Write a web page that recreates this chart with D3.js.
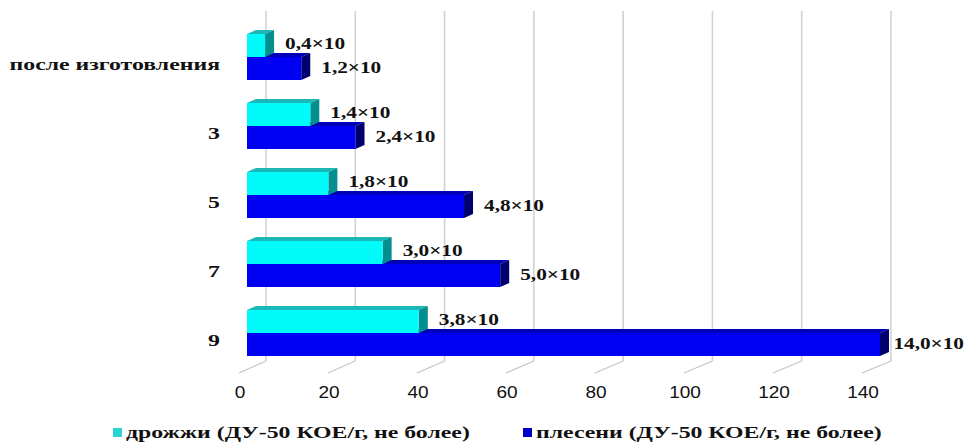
<!DOCTYPE html>
<html>
<head>
<meta charset="utf-8">
<script src="https://cdn.jsdelivr.net/npm/d3@7/dist/d3.min.js"></script>
<style>
  body { margin: 0; background: #fff; }
</style>
</head>
<body>
<script>
// data
var categories = ['после изготовления', '3', '5', '7', '9'];
var yeastValues = [4, 14, 18, 30, 38];
var mouldValues = [12, 24, 48, 56, 140];
var yeastLabels = ['0,4×10', '1,4×10', '1,8×10', '3,0×10', '3,8×10'];
var mouldLabels = ['1,2×10', '2,4×10', '4,8×10', '5,0×10', '14,0×10'];
var xTicks = [0, 20, 40, 60, 80, 100, 120, 140];
var seriesNames = ['дрожжи (ДУ-50 КОЕ/г, не более)', 'плесени (ДУ-50 КОЕ/г, не более)'];

// ----------------------------------------------------------------------------
// setup
var W = 968, H = 443;
var SX = 1.33;          // the picture is stretched sideways, so is its text
var DX = 9, DY = -4;    // depth of the 3d bars
var serif = '"Liberation Serif", "Times New Roman", serif';
var sans = '"Liberation Sans", Arial, sans-serif';

var svg = d3.select('body').append('svg')
  .attr('width', W)
  .attr('height', H);

var xBar = d3.scaleLinear().domain([0, 140]).range([247, 880]);
var xFront = d3.scaleLinear().domain([0, 140]).range([239, 862]);
var xBack = d3.scaleLinear().domain([0, 140]).range([266, 891]);
var yCat = d3.scalePoint().domain(categories).range([57, 333]);

var wallTop = 11, wallBottom = 361, floorFront = 373;
var barH = 23;

function stretchedText(g, x, y, str, opts) {
  var t = g.append('text')
    .attr('transform', 'translate(' + x + ',' + y + ') scale(' + (opts.sx || SX) + ',1)')
    .attr('text-anchor', opts.anchor || 'start')
    .style('font-family', opts.family || serif)
    .style('font-size', opts.size + 'px')
    .style('font-weight', opts.weight || 'bold')
    .style('fill', '#111')
    .text(str);
  return t;
}

// ----------------------------------------------------------------------------
// back wall gridlines and floor lines
svg.selectAll('line.grid')
  .data(xTicks)
  .enter()
  .append('line')
  .attr('class', 'grid')
  .attr('x1', function (d) { return xBack(d); })
  .attr('x2', function (d) { return xBack(d); })
  .attr('y1', wallTop)
  .attr('y2', wallBottom)
  .style('stroke', '#d2d2d2')
  .style('stroke-width', 1.6);

svg.selectAll('line.floor')
  .data(xTicks)
  .enter()
  .append('line')
  .attr('class', 'floor')
  .attr('x1', function (d) { return xFront(d); })
  .attr('x2', function (d) { return xBack(d); })
  .attr('y1', floorFront)
  .attr('y2', wallBottom)
  .style('stroke', '#c4c4c4')
  .style('stroke-width', 1.2);

// tick labels
var tickG = svg.append('g');
xTicks.forEach(function (d) {
  stretchedText(tickG, xFront(d) + 1, 398, String(d),
    { size: 17, weight: 'normal', family: sans, anchor: 'middle', sx: 1.12 });
});

// ----------------------------------------------------------------------------
// 3d bars
function bar3d(g, x0, x1, y0, h, front, top, side) {
  g.append('polygon')
    .attr('points', [[x0, y0], [x0 + DX, y0 + DY], [x1 + DX, y0 + DY], [x1, y0]].join(' '))
    .style('fill', top);
  g.append('polygon')
    .attr('points', [[x1, y0], [x1 + DX, y0 + DY], [x1 + DX, y0 + h + DY], [x1, y0 + h]].join(' '))
    .style('fill', side);
  g.append('rect')
    .attr('x', x0)
    .attr('y', y0)
    .attr('width', x1 - x0)
    .attr('height', h)
    .style('fill', front);
}

var barsG = svg.append('g');
categories.forEach(function (c, i) {
  var b = yCat(c);
  bar3d(barsG, xBar(0), xBar(mouldValues[i]), b, barH, '#0000f2', '#0000b8', '#00006e');
  bar3d(barsG, xBar(0), xBar(yeastValues[i]), b - barH, barH, '#00fbfb', '#1cb8b8', '#058e8e');
});

// value labels
var labelG = svg.append('g');
categories.forEach(function (c, i) {
  var b = yCat(c);
  var t1 = stretchedText(labelG, 0, 0, yeastLabels[i], { size: 16 });
  var w1 = t1.node().getComputedTextLength() * SX;
  var x1 = Math.min(xBar(yeastValues[i]) + 20, W - w1 - 4);
  t1.attr('transform', 'translate(' + x1 + ',' + (b - 8) + ') scale(' + SX + ',1)');

  var t2 = stretchedText(labelG, 0, 0, mouldLabels[i], { size: 16 });
  var w2 = t2.node().getComputedTextLength() * SX;
  var x2 = Math.min(xBar(mouldValues[i]) + 20, W - w2 - 4);
  t2.attr('transform', 'translate(' + x2 + ',' + (b + 16) + ') scale(' + SX + ',1)');
});

// category labels
var catG = svg.append('g');
categories.forEach(function (c) {
  stretchedText(catG, 220, yCat(c) + 13, c, { size: 17, anchor: 'end', sx: 1.4 });
});

// ----------------------------------------------------------------------------
// legend
var legendColors = ['#2ad4d4', '#0000c8'];
var legendX = [113, 523];
var legendG = svg.append('g');
seriesNames.forEach(function (name, i) {
  legendG.append('rect')
    .attr('x', legendX[i])
    .attr('y', 428)
    .attr('width', 9)
    .attr('height', 9)
    .style('fill', legendColors[i]);
  stretchedText(legendG, legendX[i] + 13, 438, name, { size: 17, sx: 1.4 });
});
</script>
</body>
</html>
